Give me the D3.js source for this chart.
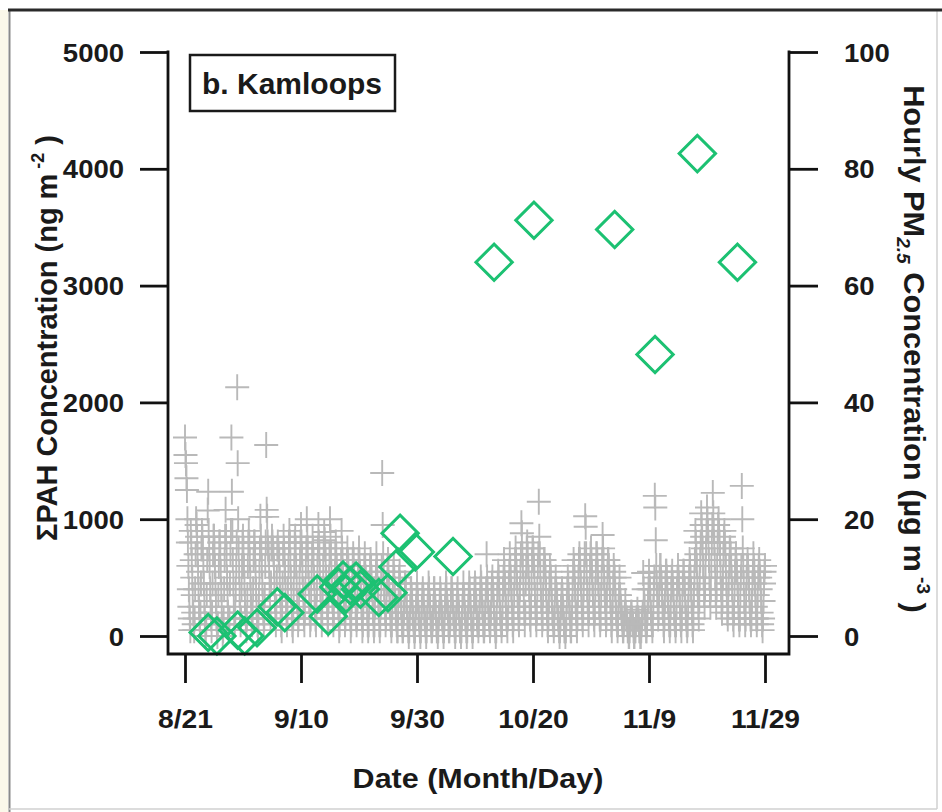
<!DOCTYPE html>
<html><head><meta charset="utf-8">
<script src="https://cdn.jsdelivr.net/npm/d3@7"></script>
<style>
body{margin:0;background:#fff}
svg{display:block}
text{font-family:"Liberation Sans",Arial,Helvetica,sans-serif;font-weight:bold;fill:#1a1a1a}
</style>
</head><body>
<svg id="chart" width="942" height="812"></svg>
<script>
// ---------- data ----------
const YEAR = 2014;
// Sum PAH concentration (ng m^-2), left axis: sampling date "MM-DDTHH"
const pahDates = ["08-25T00","08-26T12","08-30T02","08-31T07","09-02T10","09-05T22","09-07T05",
  "09-12T19","09-14T17","09-16T12","09-17T06","09-17T18","09-18T12","09-19T12","09-20T06",
  "09-23T10","09-25T00","09-26T17","09-27T02","09-29T17","10-06T05",
  "10-13T07","10-20T04","11-03T02","11-10T01","11-17T08","11-24T06"];
const pahValues = [30,0,50,0,70,250,200,
  360,170,420,480,360,430,470,400,
  330,370,590,880,720,680,
  3200,3560,3480,2410,4130,3200];

// Hourly PM2.5 (ug m^-3), right axis: one string per day starting at pmStart,
// readings evenly spaced through the day (every 2 h)
const pmStart = "08-21";
const pmDaily = [
 // August 21-31
 "34 31 29.6 27 25 20 16 12 8 5 3 1",
 "18 16 13 10 7 4 2 1 3 8 14 20",
 "19 17 14 11 8 5 3 2 4 9 15 18",
 "17 15 12 9 6 3 1 0 2 7 13 21.5",
 "24.7 18 15 12 8 5 3 1 4 9 14 17",
 "17 15 12 9 6 3 1 0 2 7 12 16",
 "16 14 11 8 5 2 0 1 3 8 13 17",
 "21.6 17 14 10 7 4 2 1 3 9 14 18",
 "34 24.7 18 13 9 5 3 2 4 8 12 16",
 "42.6 29.6 20 15 11 7 4 2 3 8 12 16",
 "17 15 12 9 6 4 2 1 3 7 12 16",
 // September
 "18 16 13 10 7 5 3 2 4 8 13 16",
 "16 14 11 8 5 3 2 1 3 7 11 15",
 "20.4 17 15 12 9 6 4 2 3 7 12 16",
 "32.7 21.6 20.4 16 15 14 12 8 5 3 9 15",
 "17 16 15 14 12 9 6 4 2 5 10 15",
 "16 15 14 13 10 7 4 2 1 5 9 14",
 "17 15 13 11 8 5 3 2 4 8 12 16",
 "18 16 13 10 7 4 2 1 3 8 12 16",
 "17 15 12 9 6 4 2 3 6 10 13 16",
 "19 16 14 11 8 5 3 2 4 8 12 15",
 "20 17 15 12 9 6 4 2 3 7 11 14",
 "17 15 13 10 7 5 3 2 4 8 12 15",
 "19 16 14 11 8 6 4 2 3 8 12 15",
 "17.8 16.4 15 13 10 7 5 3 2 6 10 14",
 "20 17 14 11 8 6 4 2 3 7 11 14",
 "16 14 12 10 7 5 3 1 2 6 10 13",
 "18 15 13 11 8 6 4 2 3 6 10 13",
 "15 13 12 10 7 5 3 1 2 6 10 13",
 "14 13 11 9 7 5 3 2 3 6 10 13",
 "15 13 11 9 7 5 3 1 2 5 9 12",
 "14 12 10 8 6 4 2 1 2 5 9 12",
 "13 12 10 8 6 4 2 1 2 5 8 11",
 "14 12 10 8 6 4 2 1 2 5 9 12",
 "27.9 19 14 11 8 6 4 2 3 6 9 12",
 "13 11 9 7 5 3 2 1 2 5 8 11",
 "12 10 8 6 4 3 2 1 1 4 7 10",
 "11 9 7 5 4 2 1 1 2 4 6 9",
 "9 8 6 5 3 2 1 0 1 3 5 8",
 "8 7 6 4 3 2 1 0 1 3 5 7",
 "9 7 6 4 3 2 1 0 1 3 5 7",
 // October
 "8 7 6 4 3 2 1 0 1 3 5 7",
 "9 8 6 5 3 2 1 1 2 3 5 8",
 "8 6 5 4 2 1 1 0 1 3 4 6",
 "8 7 5 4 3 2 1 0 1 3 5 7",
 "9 8 6 5 4 2 1 1 2 3 6 8",
 "8 7 6 4 3 2 1 0 1 3 5 7",
 "8 6 5 4 2 1 1 0 1 3 5 7",
 "9 7 6 4 3 2 1 0 1 3 5 7",
 "9 8 6 5 3 2 1 0 1 3 6 8",
 "9 8 6 5 3 2 2 1 2 4 6 8",
 "10 9 7 5 4 2 1 1 2 4 6 8",
 "14 10 8 6 4 3 2 1 2 4 7 9",
 "10 8 7 5 3 2 1 0 1 4 7 9",
 "11 10 8 6 4 3 2 1 2 5 8 10",
 "13 11 9 7 5 3 2 1 3 6 9 11",
 "14 12 10 8 6 4 2 1 3 7 10 13",
 "15 13 11 9 7 5 3 2 4 8 11 14",
 "19.3 17.6 14 12 9 6 4 2 4 9 12 15",
 "16 14 12 10 8 5 3 2 5 9 13 15",
 "15 14 12 10 7 5 3 2 4 8 12 14",
 "23 17 14 11 8 6 4 2 3 7 11 13",
 "13 12 10 8 6 4 2 1 3 6 9 12",
 "11 10 8 6 4 3 2 1 2 5 8 10",
 "8 7 6 4 3 2 1 0 1 3 5 7",
 "8 7 5 4 2 1 1 0 1 3 6 8",
 "10 9 7 5 4 2 1 1 3 5 8 11",
 "13 12 10 8 6 4 2 1 3 7 10 13",
 "14 13 11 9 7 5 3 2 4 8 11 14",
 "20.5 18.7 14 11 8 6 4 2 4 8 12 14",
 "15 13 11 9 7 5 3 2 4 8 11 14",
 "14 13 11 9 7 5 3 2 3 7 10 13",
 // November
 "17.3 15 13 10 8 6 4 2 3 7 11 13",
 "13 12 10 8 6 4 2 1 3 6 9 12",
 "11 10 8 6 4 3 2 1 2 5 7 10",
 "7 6 5 4 3 2 1 1 2 3 4 6",
 "4 3 3 2 1 1 0 0 1 2 3 4",
 "4 3 2 2 1 0 0 1 1 2 3 3",
 "4.5 3 3 2 1 1 0 0 1 2 3 4",
 "10.8 8 6 5 3 2 1 1 2 4 6 8",
 "11 9 8 6 4 3 2 1 2 5 8 10",
 "24 22 16.4 12 9 7 5 3 4 7 10 12",
 "12 10 9 7 5 4 2 1 3 6 9 11",
 "11 10 8 6 5 3 2 1 2 5 8 10",
 "11 9 8 6 4 3 2 1 2 5 8 10",
 "12 10 9 7 5 3 2 1 3 6 9 11",
 "11 9 8 6 4 3 2 1 2 5 8 10",
 "13 12 10 8 6 4 2 1 3 7 10 13",
 "18 16 14 12 9 7 5 3 6 10 13 16",
 "21 19 17 15 12 10 7 5 8 12 15 18",
 "22 20 18 16 13 10 7 5 8 12 16 19",
 "24.5 21 18 16 13 10 7 5 8 12 16 19",
 "20 18 16 14 11 8 5 4 6 10 14 17",
 "18 16 14 12 9 7 4 3 5 9 12 15",
 "15 14 12 10 8 5 3 2 4 8 11 13",
 "14 12 11 9 7 5 3 2 3 7 10 12",
 "25.7 20 15 12 9 6 4 2 3 7 10 12",
 "13 12 10 8 6 4 3 2 3 6 9 11",
 "14 12 11 9 7 5 3 2 3 7 10 12",
 "13 11 10 8 6 4 2 1 3 6 9 11",
 "12"
];

const yLeftTicks = [0,1000,2000,3000,4000,5000];
const yRightTicks = [0,20,40,60,80,100];
const xTickDates = ["08-21","09-10","09-30","10-20","11-09","11-29"];
const panelTitle = "b. Kamloops";
const xTitle = "Date (Month/Day)";

// ---------- helpers ----------
function parseMD(s){
  const [md,h] = s.split("T");
  const [m,d] = md.split("-").map(Number);
  return new Date(Date.UTC(YEAR, m-1, d, h ? +h : 0));
}
const pmPoints = [];
const t0 = parseMD(pmStart);
pmDaily.forEach((row, i) => {
  const vals = row.trim().split(/\s+/);
  vals.forEach((v, j) => {
    pmPoints.push({t: new Date(t0.getTime() + (i*24 + j*24/vals.length)*3600e3), v: +v});
  });
});
const pahPoints = pahDates.map((d,i)=>({t: parseMD(d), v: pahValues[i]}));

// ---------- scales ----------
const svg = d3.select("#chart");
const x = d3.scaleUtc().domain([parseMD("08-21"), parseMD("11-29")]).range([185, 765]);
const yL = d3.scaleLinear().domain([0,5000]).range([636,52]);
const yR = d3.scaleLinear().domain([0,100]).range([636,52]);

// ---------- outer frame ----------
svg.append("rect").attr("x",0).attr("y",10).attr("width",8).attr("height",802).attr("fill","#fbf8ea");
svg.append("line").attr("x1",9.5).attr("x2",9.5).attr("y1",10).attr("y2",812).attr("stroke","#8a8a8a").attr("stroke-width",2);
svg.append("line").attr("x1",937).attr("x2",937).attr("y1",10).attr("y2",809).attr("stroke","#d0d0d0").attr("stroke-width",1.5);
svg.append("line").attr("x1",9).attr("x2",937).attr("y1",809).attr("y2",809).attr("stroke","#d0d0d0").attr("stroke-width",1.5);
svg.append("line").attr("x1",8).attr("x2",942).attr("y1",10).attr("y2",10).attr("stroke","#2a2a2a").attr("stroke-width",3);

// ---------- hourly PM2.5 crosses ----------
svg.append("g").selectAll("path").data(pmPoints).join("path")
  .attr("transform", d => `translate(${x(d.t)},${yR(d.v)})`)
  .attr("d","M-12,0H12M0,-13V13")
  .attr("fill","none").attr("stroke","#b9b9b9").attr("stroke-width",1.9);

// ---------- PAH diamonds ----------
const diamond = d3.symbol().type(d3.symbolSquare).size(660);
svg.append("g").selectAll("path").data(pahPoints).join("path")
  .attr("transform", d => `translate(${x(d.t)},${yL(d.v)}) rotate(45)`)
  .attr("d", diamond)
  .attr("fill","none").attr("stroke","#1cc172").attr("stroke-width",3);

// ---------- axes ----------
const ink = "#111";
function styleAxis(g){
  g.select(".domain").remove();
  g.selectAll(".tick line").attr("stroke",ink).attr("stroke-width",2.8);
  g.selectAll(".tick text").attr("x",null).attr("y",null).attr("dy",null)
    .style("font-size","25px").attr("fill","#1a1a1a");
}
const gL = svg.append("g").attr("transform","translate(168,0)")
  .call(d3.axisLeft(yL).tickValues(yLeftTicks).tickSize(28).tickFormat(d3.format("d")));
styleAxis(gL);
gL.selectAll(".tick text").attr("text-anchor","end").attr("transform","translate(-44,9) scale(1.1,1)");

const gR = svg.append("g").attr("transform","translate(789,0)")
  .call(d3.axisRight(yR).tickValues(yRightTicks).tickSize(29).tickFormat(d3.format("d")));
styleAxis(gR);
gR.selectAll(".tick text").attr("text-anchor","start").attr("transform","translate(55,9) scale(1.1,1)");

const gB = svg.append("g").attr("transform","translate(0,654)")
  .call(d3.axisBottom(x).tickValues(xTickDates.map(parseMD)).tickSize(29).tickFormat(d3.utcFormat("%-m/%-d")));
styleAxis(gB);
gB.selectAll(".tick text").attr("text-anchor","middle").attr("transform","translate(0,74) scale(1.13,1)");

// plot frame (left axis, bottom axis, right axis)
svg.append("path").attr("d","M168,52V654H789V52").attr("fill","none")
  .attr("stroke",ink).attr("stroke-width",2.8).attr("stroke-linecap","square");

// ---------- panel title ----------
svg.append("rect").attr("x",190).attr("y",55).attr("width",205).attr("height",56)
  .attr("fill","#fff").attr("stroke","#1a1a1a").attr("stroke-width",2.5);
svg.append("text").attr("x",202).attr("y",94).style("font-size","30px").text(panelTitle);

// ---------- axis titles ----------
const xt = svg.append("text").attr("text-anchor","middle").style("font-size","28px").text(xTitle);
{ const w = xt.node().getBBox().width; xt.attr("transform",`translate(478,788) scale(${251/w},1)`); }

function rotLabel(cx, cy, angle, target, build){
  const t = svg.append("text").attr("text-anchor","middle").style("font-size","29px");
  build(t);
  const w = t.node().getBBox().width;
  t.attr("transform",`translate(${cx},${cy}) rotate(${angle}) scale(${target/w},1)`);
}
rotLabel(57, 338, -90, 406, t => {
  t.append("tspan").text("ΣPAH Concentration (ng m");
  t.append("tspan").style("font-size","18px").attr("dy",-13).text(" -2");
  t.append("tspan").attr("dy",13).text(" )");
});
rotLabel(904, 349, 90, 528, t => {
  t.append("tspan").text("Hourly PM");
  t.append("tspan").style("font-size","18px").style("font-style","italic").attr("dy",7).text("2.5");
  t.append("tspan").attr("dy",-7).text(" Concentration (µg m");
  t.append("tspan").style("font-size","18px").attr("dy",-13).text(" -3");
  t.append("tspan").attr("dy",13).text(" )");
});
</script>
</body></html>
